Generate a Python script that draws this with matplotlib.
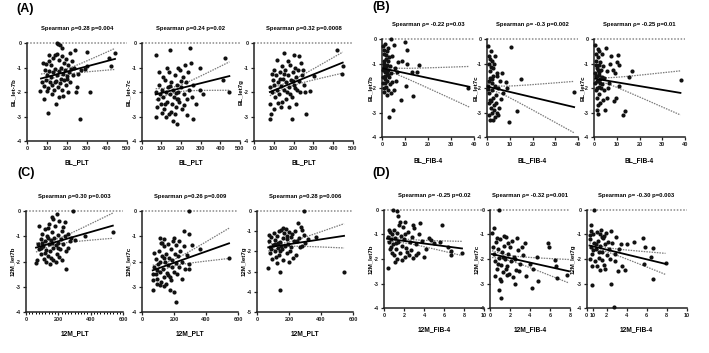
import numpy as np
import matplotlib
matplotlib.use("Agg")
import matplotlib.pyplot as plt

plt.rcParams['axes.unicode_minus'] = False
plt.rcParams['font.family'] = ['Liberation Sans', 'DejaVu Sans']
plt.rcParams['font.weight'] = 'bold'

# ---------------- data ----------------
# Panel A : BL_PLT vs BL let-7 family
a1_x = [157,150,165,173,240,302,440,420,410,315,103,265,143,65,87,178,252,245,290,300,
        80,95,110,120,130,140,150,160,175,185,195,205,215,225,235,90,100,110,120,130,140,150,160,170,180,
        190,200,210,220,230,75,85,95,105,115,125,135,145,155,165,175,185,195,205,215,125,160,200,110,255,
        270,140,170,100]
a1_y = [-0.05,-0.02,-0.1,-0.22,-0.27,-0.37,-0.4,-0.94,-0.6,-2.0,-2.84,-3.1,-2.49,-1.97,-2.3,-2.15,-1.8,-2.0,-1.05,-0.95,
        -0.8,-0.85,-0.75,-0.9,-0.6,-0.5,-0.45,-0.7,-0.55,-0.8,-0.65,-0.9,-0.4,-0.75,-1.0,-1.1,-1.3,-1.15,-1.4,-1.2,-1.05,-1.3,-1.15,-1.0,-1.25,
        -1.1,-1.35,-1.2,-1.05,-1.3,-1.6,-1.75,-1.5,-1.85,-1.6,-1.7,-1.9,-1.55,-1.8,-1.65,-1.9,-1.5,-1.7,-2.0,-1.6,-2.1,-2.2,-1.45,-0.5,-1.25,
        -1.1,-1.6,-1.45,-1.95]
a2_x = [246,424,415,446,297,297,311,277,260,229,72,145,72,179,187,
        75,85,90,100,105,110,115,120,125,130,135,140,145,150,155,160,165,170,175,180,185,190,195,200,205,
        210,215,220,225,230,235,240,250,80,95,110,125,140,150,160,170,180,130,120,145,175,200,215,90,260,255,105,185]
a2_y = [-0.22,-0.63,-1.5,-2.0,-1.0,-1.9,-2.1,-2.5,-3.1,-2.95,-0.49,-0.29,-3.0,-3.3,-2.3,
        -2.0,-2.3,-1.7,-2.5,-1.9,-2.2,-2.7,-1.5,-2.0,-2.4,-1.8,-2.9,-2.1,-1.6,-2.5,-1.9,-2.2,-1.3,-2.6,-1.7,-2.0,-2.4,-1.1,-1.8,-2.7,
        -1.4,-2.1,-0.9,-1.6,-2.3,-1.2,-1.9,-0.8,-2.6,-2.1,-1.4,-3.0,-1.2,-2.8,-3.2,-2.9,-2.3,-1.0,-2.5,-1.75,-2.05,-1.55,-2.55,-1.2,-1.7,-2.2,-2.85,-1.0]
a3_x = [418,448,446,305,284,264,190,81,86,101,79,152,203,227,118,236,
        80,90,95,100,105,110,115,120,125,130,135,140,145,150,155,160,165,170,175,180,185,190,195,200,205,
        210,215,220,225,230,240,250,100,120,140,160,170,180,130,150,195,210,245,260,90,175,135,205]
a3_y = [-0.28,-0.92,-1.27,-1.33,-1.94,-2.9,-3.1,-3.1,-2.9,-2.7,-2.5,-0.4,-0.5,-0.55,-0.7,-0.8,
        -1.8,-2.0,-1.5,-1.7,-2.2,-1.3,-1.9,-1.6,-2.1,-1.2,-1.75,-2.4,-1.45,-1.9,-1.1,-1.6,-2.0,-1.3,-1.8,-0.9,-1.5,-2.2,-1.2,-1.7,-1.0,
        -1.4,-1.9,-1.1,-1.55,-2.0,-1.3,-1.7,-1.1,-2.45,-0.95,-2.3,-0.75,-2.1,-1.45,-1.25,-1.55,-2.5,-1.1,-2.0,-1.25,-2.6,-2.6,-1.85]

# Panel B : BL_FIB-4 vs BL let-7 family
b1_x = [10,10.7,7.1,10.7,12.9,15,16.2,10.4,8.1,13.6,4.6,2.9,37.5,5.1,6.2,
        0.5,0.8,1.0,1.2,1.5,0.6,0.9,1.3,1.6,1.8,2.0,2.2,2.5,0.7,1.1,1.4,1.7,2.1,2.4,2.7,3.0,3.3,0.4,0.9,
        1.9,2.8,3.5,4.0,4.5,3.8,2.3,1.25,0.55,3.2,5.5,4.2,1.0,2.6,0.8,1.6,5.0,3.7,8.5,6.5,2.0]
b1_y = [-0.11,-0.45,-0.95,-1.0,-1.33,-1.33,-1.06,-1.9,-2.49,-2.33,-2.9,-3.2,-2.0,-2.1,-1.7,
        -0.3,-0.6,-0.9,-1.2,-1.5,-1.8,-2.0,-0.2,-0.8,-1.1,-1.4,-1.7,-2.1,-1.0,-1.35,-1.65,-1.95,-0.5,-0.9,-1.25,-1.55,-1.85,-1.25,-0.45,
        -0.65,-0.35,-1.1,-1.4,-0.7,-2.2,-1.05,-1.8,-1.55,-0.75,-1.2,-1.75,-2.15,-1.45,-1.15,-1.3,-0.25,-0.02,-0.9,-1.35,-2.3]
b2_x = [10.5,6.4,4.3,8.4,15.0,9.8,13.1,38.2,
        0.5,0.8,1.0,1.2,1.5,0.6,0.9,1.3,1.6,0.7,1.1,1.9,2.2,2.5,2.8,2.0,2.3,2.6,2.9,2.1,3.2,3.5,3.8,4.1,3.4,
        4.5,4.8,1.4,1.8,0.4,1.7,2.4,3.0,5.2,5.5,6.0,7.0,3.7,4.4,2.7,1.0,0.7,5.0,9.0]
b2_y = [-0.31,-1.4,-1.53,-1.75,-1.64,-3.37,-2.94,-2.15,
        -0.3,-0.7,-1.0,-1.3,-1.6,-1.9,-2.2,-2.5,-2.8,-3.1,-3.3,-0.5,-0.9,-1.2,-1.5,-1.8,-2.1,-2.4,-2.7,-3.0,-1.0,-1.9,-2.3,-2.6,-3.2,
        -1.4,-2.0,-0.8,-2.55,-2.05,-1.15,-1.65,-2.9,-2.8,-1.7,-2.45,-2.2,-0.7,-3.0,-3.3,-1.7,-2.6,-3.1,-2.0]
b3_x = [5.3,10.4,7.5,10.3,11.2,8.3,16.6,15.3,9.1,11.2,6.2,9.6,8.8,13.6,12.9,4.8,1.9,5.6,38.1,
        0.5,0.8,1.0,1.2,1.5,0.6,0.9,1.3,1.6,1.8,2.0,2.2,2.5,2.1,2.3,2.7,3.0,3.3,3.6,0.4,1.1,1.4,1.7,3.9,
        4.2,4.5,2.6,0.7,1.9,2.8,3.5,4.0,1.2,0.9,1.6,2.4,3.1,6.5,7.0,5.8,2.4]
b3_y = [-0.38,-0.65,-0.69,-0.92,-1.06,-1.27,-1.31,-1.54,-1.4,-1.92,-2.02,-2.42,-2.55,-2.92,-3.1,-2.9,-3.06,-2.4,-1.67,
        -0.25,-0.6,-0.9,-1.2,-1.5,-1.8,-2.1,-2.4,-0.4,-0.75,-1.05,-1.35,-1.65,-1.95,-2.25,-0.95,-1.25,-1.55,-1.85,-1.4,-1.7,-2.0,-2.7,-1.1,
        -2.1,-1.6,-2.6,-1.05,-1.25,-1.8,-0.6,-2.5,-2.9,-1.5,-1.7,-1.45,-2.0,-1.8,-1.0,-1.3,-0.5]

# Panel C : 12M_PLT vs 12M let-7 family
c1_x = [290,194,163,241,537,365,248,149,70,62,82,138,206,220,
        75,80,90,95,100,105,110,115,120,125,130,135,140,145,150,155,160,165,170,175,180,185,190,195,200,
        205,210,215,220,230,240,250,260,270,280,125,155,185,100,170,230,260,135,115,195,300,90,160]
c1_y = [0.0,-0.1,-0.22,-0.44,-0.84,-1.0,-2.31,-2.1,-1.95,-2.07,-0.6,-0.67,-1.82,-1.95,
        -1.3,-1.5,-1.1,-1.7,-0.9,-1.4,-1.9,-1.2,-0.7,-1.55,-1.0,-1.8,-1.3,-0.5,-1.6,-1.15,-0.85,-1.45,-1.95,-1.05,-0.6,-1.35,-1.7,-0.95,-1.25,
        -0.4,-1.5,-1.1,-0.8,-1.3,-1.0,-1.6,-0.9,-1.2,-1.05,-2.0,-1.85,-2.0,-1.25,-0.3,-0.65,-1.45,-1.05,-1.65,-1.45,-1.15,-1.45,-1.25]
c2_x = [294,262,294,314,362,544,210,175,137,67,67,70,248,296,296,112,140,75,127,95,199,
        75,85,90,95,100,105,110,115,120,125,130,135,140,145,150,155,160,165,170,175,180,185,190,195,200,
        205,210,215,220,225,230,240,250,260,270,150,180,120,200,160,230,280,110,95,140]
c2_y = [0.0,-0.78,-0.92,-1.35,-1.52,-1.87,-3.6,-3.13,-2.99,-3.13,-2.73,-2.5,-2.7,-2.3,-2.1,-1.05,-1.1,-1.68,-1.28,-2.9,-3.2,
        -2.2,-2.5,-1.9,-2.7,-2.1,-1.6,-2.4,-2.0,-2.8,-1.8,-2.3,-1.4,-2.6,-2.0,-1.7,-2.45,-1.3,-2.15,-1.85,-2.6,-1.5,-2.2,-1.95,-1.2,-2.4,
        -1.7,-2.05,-1.35,-2.5,-1.8,-2.2,-1.6,-2.0,-1.4,-2.3,-2.9,-2.75,-1.25,-1.05,-2.55,-1.2,-1.75,-2.95,-2.35,-1.85]
c3_x = [296,544,144,144,71,258,275,283,367,296,77,81,283,250,244,
        75,80,90,95,100,105,110,115,120,125,130,135,140,145,150,155,160,165,170,175,180,185,190,195,200,
        205,210,215,220,225,230,240,90,125,160,200,130,185,145,110,260,270,300,320,150]
c3_y = [0.0,-3.04,-3.91,-3.0,-2.84,-0.61,-0.78,-0.95,-1.27,-1.2,-1.2,-1.78,-1.72,-1.5,-2.2,
        -1.5,-2.1,-1.3,-2.4,-1.7,-1.1,-2.0,-1.45,-2.3,-1.25,-1.85,-1.0,-2.2,-1.55,-0.95,-1.9,-1.35,-2.45,-1.1,-1.75,-0.9,-2.1,-1.4,-1.65,-1.05,
        -2.0,-1.3,-1.8,-1.15,-2.35,-1.5,-1.0,-1.9,-2.55,-0.85,-2.5,-1.6,-1.25,-2.0,-1.65,-1.35,-1.8,-1.6,-1.4,-1.75]

# Panel D : 12M_FIB-4 vs 12M let-7 family
d1_x = [0.86,1.26,1.43,2.1,3.6,5.8,0.36,1.1,7.75,6.7,6.7,6.4,5.6,4.65,4.0,2.9,2.1,1.75,2.3,3.2,2.67,
        0.4,0.5,0.6,0.7,0.8,0.9,1.0,1.1,1.2,1.3,1.4,1.5,1.6,1.7,1.8,1.9,2.0,2.2,2.4,2.6,2.8,3.0,3.2,3.5,
        3.8,4.2,4.5,5.0,0.6,1.0,1.3,0.8,1.6,2.5,3.4,0.5,2.9,1.15,0.7,2.1]
d1_y = [0.0,-0.05,-0.24,-0.48,-0.55,-0.62,-2.38,-2.14,-1.77,-1.84,-1.67,-1.5,-1.3,-1.22,-1.9,-1.97,-1.9,-2.04,-1.7,-1.84,-1.63,
        -1.1,-1.3,-0.9,-1.2,-1.0,-1.4,-0.8,-1.15,-1.6,-0.95,-1.3,-0.6,-1.75,-1.05,-1.45,-0.7,-1.2,-1.55,-0.9,-1.3,-1.1,-0.75,-1.4,-1.0,
        -1.25,-1.6,-1.15,-1.35,-1.6,-1.85,-2.0,-1.75,-0.5,-1.85,-1.75,-0.8,-0.6,-1.35,-1.5,-1.0]
d2_x = [0.9,0.43,0.17,0.9,1.07,1.07,2.5,1.67,2.67,3.17,4.0,4.3,5.83,5.9,4.67,6.5,6.6,6.67,4.83,4.17,7.73,
        0.3,0.4,0.5,0.6,0.7,0.8,0.9,1.0,1.1,1.2,1.3,1.4,1.5,1.6,1.7,1.8,1.9,2.0,2.1,2.2,2.4,2.6,2.8,3.0,
        3.3,3.6,0.5,1.0,1.4,2.3,0.7,1.8,2.9,0.8,1.25,3.5,2.5,1.55]
d2_y = [0.0,-0.75,-0.95,-3.27,-3.6,-2.9,-3.0,-2.67,-1.16,-1.5,-2.2,-2.4,-1.36,-1.5,-1.9,-2.04,-2.27,-2.76,-2.9,-3.2,-2.65,
        -1.5,-1.8,-2.1,-1.3,-2.4,-1.6,-1.95,-1.2,-2.25,-1.7,-2.55,-1.45,-2.0,-1.1,-2.3,-1.8,-2.6,-1.5,-2.1,-1.25,-1.9,-2.45,-1.65,-2.2,
        -1.85,-2.7,-2.7,-2.8,-1.05,-2.75,-1.15,-1.35,-2.5,-2.2,-1.9,-1.35,-2.0,-2.4]
d3_x = [0.77,0.4,0.33,1.5,2.4,2.93,3.4,4.0,4.76,5.6,5.8,6.6,6.4,5.7,6.6,7.9,3.8,3.17,3.5,2.8,2.43,0.5,2.77,1.3,1.8,2.8,3.25,
        0.3,0.4,0.5,0.6,0.7,0.8,0.9,1.0,1.1,1.2,1.3,1.4,1.5,1.6,1.7,1.8,1.9,2.0,2.1,2.2,0.5,0.45,1.05,1.35,
        0.65,1.75,2.3,0.95,1.55,0.35,2.5,1.25]
d3_y = [0.0,-0.63,-1.04,-1.1,-0.86,-1.1,-1.37,-1.37,-1.3,-1.13,-1.5,-1.56,-1.9,-2.2,-2.8,-2.17,-2.45,-2.5,-2.3,-2.1,-3.03,-3.07,-3.97,-2.45,-2.4,-1.8,-1.6,
        -1.2,-1.5,-1.8,-1.0,-1.35,-2.1,-1.6,-0.9,-1.25,-1.95,-1.45,-0.8,-1.7,-1.15,-2.25,-1.4,-0.95,-1.85,-1.3,-1.6,-2.3,-0.85,-2.3,-1.0,
        -1.65,-1.05,-2.0,-1.4,-2.05,-2.0,-1.35,-1.7]

# Regression lines: x range, fitted y at ends, CI (x of narrowest, half-width there and at right end)
fit_x = {'a1': [70, 440], 'a2': [72, 446], 'a3': [80, 448], 'b1': [0.5, 38], 'b2': [0.5, 38.3], 'b3': [0.5, 38],
         'c1': [62, 537], 'c2': [67, 544], 'c3': [70, 544], 'd1': [0.3, 7.8], 'd2': [0.2, 7.9], 'd3': [0.3, 7.9]}
fit_y = {'a1': [-1.45, -0.65], 'a2': [-2.1, -1.35], 'a3': [-2.0, -0.8], 'b1': [-1.2, -1.95], 'b2': [-1.95, -2.78],
         'b3': [-1.62, -2.2], 'c1': [-1.45, -0.58], 'c2': [-2.35, -1.28], 'c3': [-1.8, -1.23],
         'd1': [-1.17, -1.57], 'd2': [-1.8, -2.5], 'd3': [-1.45, -2.2]}
ci_xm = {'a1': 170, 'a2': 170, 'a3': 160, 'b1': 3, 'b2': 3, 'b3': 3, 'c1': 170, 'c2': 170, 'c3': 170,
         'd1': 1.8, 'd2': 1.5, 'd3': 1.5}
ci_w0 = {'a1': 0.1, 'a2': 0.12, 'a3': 0.1, 'b1': 0.1, 'b2': 0.12, 'b3': 0.1, 'c1': 0.1, 'c2': 0.12, 'c3': 0.1,
         'd1': 0.08, 'd2': 0.1, 'd3': 0.08}
ci_w1 = {'a1': 0.43, 'a2': 0.58, 'a3': 0.43, 'b1': 0.83, 'b2': 1.05, 'b3': 0.9, 'c1': 0.5, 'c2': 0.6, 'c3': 0.6,
         'd1': 0.29, 'd2': 0.48, 'd3': 0.43}

titles = {'a1': 'Spearman ρ=0.28 p=0.004', 'a2': 'Spearman ρ=0.24 p=0.02', 'a3': 'Spearman ρ=0.32 p=0.0008',
          'b1': 'Spearman ρ= -0.22 p=0.03', 'b2': 'Spearman ρ= -0.3 p=0.002', 'b3': 'Spearman ρ= -0.25 p=0.01',
          'c1': 'Spearman ρ=0.30 p=0.003', 'c2': 'Spearman ρ=0.26 p=0.009', 'c3': 'Spearman ρ=0.28 p=0.006',
          'd1': 'Spearman ρ= -0.25 p=0.02', 'd2': 'Spearman ρ= -0.32 p=0.001', 'd3': 'Spearman ρ= -0.30 p=0.003'}
ylabels = {'a1': 'BL_let-7b', 'a2': 'BL_let-7c', 'a3': 'BL_let7g',
           'b1': 'BL_let7b', 'b2': 'BL_let7c', 'b3': 'BL_let7c',
           'c1': '12M_let7b', 'c2': '12M_let7c', 'c3': '12M_let7g',
           'd1': '12M_let7b', 'd2': '12M_let7c', 'd3': '12M_let7g'}
xlabels = {'a': 'BL_PLT', 'b': 'BL_FIB-4', 'c': '12M_PLT', 'd': '12M_FIB-4'}
xticks_a = [0, 100, 200, 300, 400, 500]
xticks_b = [0, 10, 20, 30, 40]
xticks_c = [0, 200, 400, 600]
xticks_d = [0, 2, 4, 6, 8, 10]
xticks_d2 = [0, 2, 4, 6, 8]
xticks_d3 = [0, 0.6, 2, 4, 6, 8, 10]
xticklabels_d3 = ['0', '10', '2', '4', '6', '8', '10']

data = {'a1': (a1_x, a1_y), 'a2': (a2_x, a2_y), 'a3': (a3_x, a3_y),
        'b1': (b1_x, b1_y), 'b2': (b2_x, b2_y), 'b3': (b3_x, b3_y),
        'c1': (c1_x, c1_y), 'c2': (c2_x, c2_y), 'c3': (c3_x, c3_y),
        'd1': (d1_x, d1_y), 'd2': (d2_x, d2_y), 'd3': (d3_x, d3_y)}

# ---------------- layout (pixel boxes: left, right, top, bottom) ----------------
W, H = 709, 353
boxes = {'a1': (27, 127, 43, 141), 'a2': (141.5, 240, 43, 141), 'a3': (254, 353, 43, 141),
         'b1': (382, 474, 39, 137), 'b2': (487, 578, 39, 137), 'b3': (594, 685, 39, 137),
         'c1': (26, 123, 211, 312), 'c2': (142, 238, 211, 312), 'c3': (257, 353, 211, 312),
         'd1': (384, 484, 210, 308), 'd2': (490, 570, 210, 308), 'd3': (586.5, 686.5, 210, 308)}

fig = plt.figure(figsize=(W / 100, H / 100), dpi=100)
fig.patch.set_facecolor('white')

for key, (l, r, t, b) in boxes.items():
    ax = fig.add_axes([l / W, 1 - b / H, (r - l) / W, (b - t) / H])
    wpx, hpx = r - l, b - t
    xs, ys = data[key]
    p = key[0]
    # limits / ticks
    if p == 'a':
        ax.set_xlim(0, 500); ax.set_xticks(xticks_a)
    elif p == 'b':
        ax.set_xlim(0, 40); ax.set_xticks(xticks_b)
    elif p == 'c':
        ax.set_xlim(0, 600); ax.set_xticks(xticks_c)
    else:
        if key == 'd2':
            ax.set_xlim(0, 8); ax.set_xticks(xticks_d2)
        elif key == 'd3':
            ax.set_xlim(0, 10); ax.set_xticks(xticks_d3); ax.set_xticklabels(xticklabels_d3)
        else:
            ax.set_xlim(0, 10); ax.set_xticks(xticks_d)
    if key == 'c3':
        ax.set_ylim(-5, 0); ax.set_yticks([-5, -4, -3, -2, -1, 0])
    else:
        ax.set_ylim(-4, 0); ax.set_yticks([-4, -3, -2, -1, 0])
    if key == 'c1':
        ax.set_xticks(np.arange(0, 601, 20), minor=True)
        ax.tick_params(axis='x', which='minor', length=1.6, width=0.7)

    # reference line at 0
    ax.axhline(0, color='#8a8a8a', ls=(0, (1, 1.1)), lw=1.1, zorder=1, clip_on=False)
    # regression + CI
    fx, fy = fit_x[key], fit_y[key]
    xf = np.linspace(fx[0], fx[1], 200)
    yf = fy[0] + (fy[1] - fy[0]) * (xf - fx[0]) / (fx[1] - fx[0])
    xm, w0, w1 = ci_xm[key], ci_w0[key], ci_w1[key]
    hw = np.sqrt(w0 ** 2 + (w1 ** 2 - w0 ** 2) * ((xf - xm) / (fx[1] - xm)) ** 2)
    ax.plot(xf, yf + hw, color='#7a7a7a', ls=(0, (1.2, 0.9)), lw=0.9, zorder=2)
    ax.plot(xf, yf - hw, color='#7a7a7a', ls=(0, (1.2, 0.9)), lw=0.9, zorder=2)
    ax.scatter(xs, ys, s=9, c='#111111', linewidths=0, zorder=3, clip_on=False)
    ax.plot(xf, yf, color='black', lw=1.3, zorder=4)

    for s in ('top', 'right'):
        ax.spines[s].set_visible(False)
    for s in ('left', 'bottom'):
        ax.spines[s].set_linewidth(1.1)
        ax.spines[s].set_color('#222222')
    ax.tick_params(axis='both', which='major', labelsize=4, length=2.5, width=0.9, pad=1.0, colors='#222222')
    for lbl in ax.get_xticklabels() + ax.get_yticklabels():
        lbl.set_fontweight('bold')

    # labels
    ax.set_title(titles[key], fontsize=4.2, fontweight='bold', y=1 + 14.5 / hpx, va='center', pad=0)
    yoff = 11 if p == 'b' else 13
    ax.set_ylabel(ylabels[key], fontsize=4.4, fontweight='bold', va='center')
    ax.yaxis.set_label_coords(-yoff / wpx, 0.5)
    xoff = 24 if p == 'b' else 21.5
    ax.set_xlabel(xlabels[p], fontsize=4.8, fontweight='bold', va='center')
    ax.xaxis.set_label_coords(0.5, -xoff / hpx)

for txt, x, y in [('(A)', 16, 9), ('(B)', 372, 7), ('(C)', 17, 173), ('(D)', 372, 173)]:
    fig.text(x / W, 1 - y / H, txt, fontsize=9, fontweight='bold', ha='left', va='center')

fig.savefig('out.png', dpi=100, facecolor='white')
